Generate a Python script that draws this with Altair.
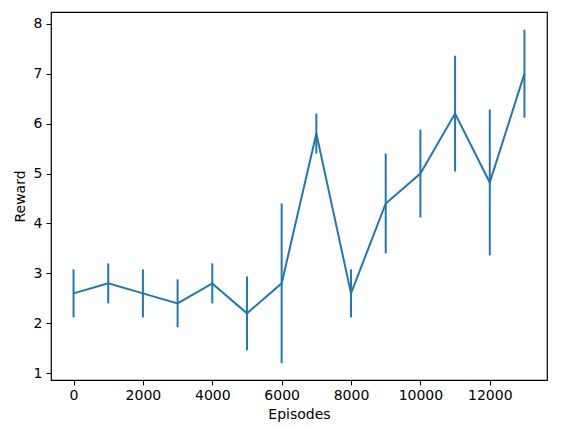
import altair as alt
import pandas as pd

episodes = [0, 1000, 2000, 3000, 4000, 5000, 6000, 7000, 8000, 9000, 10000, 11000, 12000, 13000]
reward = [2.6, 2.8, 2.6, 2.4, 2.8, 2.2, 2.8, 5.8, 2.6, 4.4, 5.0, 6.2, 4.82, 7.0]
err = [0.48, 0.4, 0.48, 0.48, 0.4, 0.74, 1.6, 0.4, 0.48, 1.0, 0.88, 1.16, 1.46, 0.88]

df = pd.DataFrame({"Episodes": episodes, "Reward": reward, "err": err})
df["lo"] = df["Reward"] - df["err"]
df["hi"] = df["Reward"] + df["err"]

color = "#1f77b4"
font = "DejaVu Sans"

xscale = alt.Scale(domain=[-650, 13650], nice=False, zero=False)
yscale = alt.Scale(domain=[0.865, 8.235], nice=False, zero=False)

xaxis = alt.Axis(values=[0, 2000, 4000, 6000, 8000, 10000, 12000], format="d", grid=False,
                 tickSize=5, tickColor="black", domain=False, labelFont=font, labelFontSize=14,
                 labelColor="black", titleFont=font, titleFontSize=14, titleFontWeight="normal",
                 titleColor="black", labelPadding=3, titlePadding=5)
yaxis = alt.Axis(values=[1, 2, 3, 4, 5, 6, 7, 8], grid=False, tickSize=5, tickColor="black",
                 domain=False, labelFont=font, labelFontSize=14, labelColor="black",
                 titleFont=font, titleFontSize=14, titleFontWeight="normal", titleColor="black",
                 labelPadding=4, titlePadding=6)

base = alt.Chart(df)
line = base.mark_line(color=color, strokeWidth=2).encode(
    x=alt.X("Episodes:Q", scale=xscale, axis=xaxis, title="Episodes"),
    y=alt.Y("Reward:Q", scale=yscale, axis=yaxis, title="Reward"),
)
bars = base.mark_rule(color=color, strokeWidth=2).encode(
    x=alt.X("Episodes:Q", scale=xscale),
    y=alt.Y("lo:Q", scale=yscale),
    y2="hi:Q",
)

chart = (bars + line).properties(
    width=496, height=368,
    background="white",
    autosize=alt.AutoSizeParams(type="none"),
    padding={"left": 43, "top": 4, "right": 20, "bottom": 48},
).configure_view(stroke="black", strokeWidth=1.2)

chart.save("out.html", embed_options={"renderer": "svg", "actions": False})
